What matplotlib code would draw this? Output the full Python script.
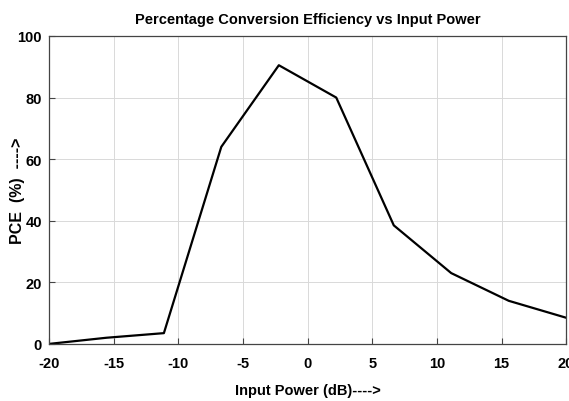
import matplotlib
matplotlib.use('Agg')
import matplotlib.pyplot as plt

plt.rcParams['axes.unicode_minus'] = False
plt.rcParams['font.family'] = ['Liberation Sans', 'DejaVu Sans']

# input power (dB) and PCE (%)
power_db = [-20, -15.56, -11.11, -6.67, -2.22, 2.22, 6.67, 11.11, 15.56, 20]
pce = [0, 2, 3.5, 64, 90.5, 80, 38.5, 23, 14, 8.5]
x_ticks = [-20, -15, -10, -5, 0, 5, 10, 15, 20]
y_ticks = [0, 20, 40, 60, 80, 100]

fig = plt.figure(figsize=(5.69, 4.02), dpi=100)
ax = fig.add_axes([0.086, 0.142, 0.909, 0.766])

ax.plot(power_db, pce, color='black', linewidth=1.6)

ax.set_xlim(-20, 20)
ax.set_ylim(0, 100)
ax.set_xticks(x_ticks)
ax.set_yticks(y_ticks)
ax.grid(True, color='#d9d9d9', linewidth=0.7)
ax.tick_params(direction='in', length=4, color='#444444', labelsize=10.5)
ax.tick_params(axis='x', pad=9)
ax.tick_params(axis='y', pad=5)
for lbl in ax.get_xticklabels() + ax.get_yticklabels():
    lbl.set_fontweight('bold')
for sp in ax.spines.values():
    sp.set_color('#444444')
    sp.set_linewidth(0.9)

ax.set_title('Percentage Conversion Efficiency vs Input Power',
             fontweight='bold', fontsize=10.5, pad=9)
ax.set_xlabel('Input Power (dB)---->', fontweight='bold', fontsize=10.5, labelpad=9)
ax.set_ylabel('PCE  (%)  ---->', fontweight='bold', fontsize=11.5)
ax.yaxis.set_label_coords(-0.046, 0.5)

plt.savefig('out.png', dpi=100)
